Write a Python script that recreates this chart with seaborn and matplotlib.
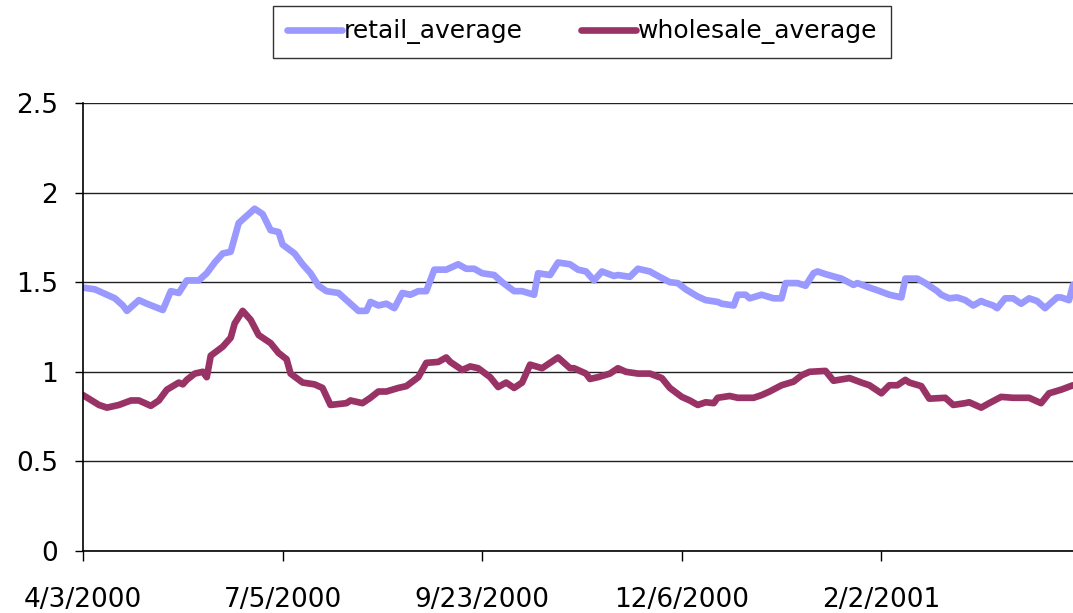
import matplotlib
matplotlib.use("Agg")
import matplotlib.pyplot as plt
import numpy as np
import pandas as pd
import seaborn as sns

# Category position (trading-day index) and values
retail_x = [0, 3, 6, 8, 10, 11, 14, 16, 20, 22, 24, 26, 29, 31, 33, 35, 37, 39, 40, 43,
            45, 47, 49, 50, 53, 55, 57, 59, 61, 64, 67, 69, 71, 72, 74, 76, 78, 80, 82, 84,
            86, 88, 91, 94, 96, 98, 100, 103, 105, 108, 110, 113, 114, 117, 119, 122, 124, 126, 128, 130,
            133, 134, 137, 139, 142, 144, 147, 149, 151, 154, 156, 159, 160, 163, 164, 166, 167, 170, 173, 175,
            176, 179, 181, 183, 184, 186, 190, 193, 194, 197, 199, 202, 205, 206, 209, 211, 214, 215, 217, 219,
            221, 223, 225, 226, 228, 229, 231, 233, 235, 237, 239, 241, 244, 245, 247, 248]
retail_y = [1.47, 1.46, 1.43, 1.41, 1.37, 1.34, 1.40, 1.38, 1.345, 1.45, 1.44, 1.51, 1.51, 1.55, 1.61, 1.66, 1.67, 1.83, 1.85, 1.91,
            1.88, 1.79, 1.78, 1.71, 1.66, 1.60, 1.55, 1.48, 1.45, 1.44, 1.38, 1.34, 1.34, 1.39, 1.37, 1.38, 1.355, 1.44, 1.43, 1.45,
            1.45, 1.57, 1.57, 1.60, 1.575, 1.575, 1.55, 1.54, 1.50, 1.45, 1.45, 1.43, 1.55, 1.54, 1.61, 1.60, 1.57, 1.56, 1.51, 1.56,
            1.535, 1.54, 1.53, 1.575, 1.56, 1.535, 1.50, 1.495, 1.46, 1.42, 1.40, 1.39, 1.38, 1.37, 1.43, 1.43, 1.41, 1.43, 1.41, 1.41,
            1.495, 1.495, 1.48, 1.55, 1.56, 1.545, 1.52, 1.485, 1.495, 1.47, 1.455, 1.43, 1.415, 1.52, 1.52, 1.495, 1.45, 1.43, 1.41, 1.415,
            1.40, 1.37, 1.395, 1.385, 1.37, 1.355, 1.41, 1.41, 1.38, 1.41, 1.395, 1.355, 1.415, 1.415, 1.40, 1.485]

wholesale_x = [0, 4, 6, 9, 12, 14, 17, 19, 21, 24, 25, 26, 28, 30, 31, 32, 35, 37, 38, 40,
               42, 44, 47, 49, 51, 52, 55, 58, 60, 62, 66, 67, 70, 72, 74, 76, 79, 81, 84, 86,
               89, 91, 92, 95, 97, 99, 102, 104, 106, 108, 110, 112, 115, 117, 119, 122, 123, 126, 127, 129,
               132, 134, 136, 139, 142, 145, 147, 150, 152, 154, 156, 158, 159, 162, 164, 168, 170, 172, 175, 178,
               180, 182, 186, 188, 192, 195, 197, 200, 202, 204, 206, 207, 210, 212, 216, 218, 221, 222, 225, 227,
               230, 233, 237, 240, 242, 245, 248]
wholesale_y = [0.87, 0.815, 0.80, 0.815, 0.84, 0.84, 0.81, 0.84, 0.90, 0.94, 0.93, 0.955, 0.99, 1.00, 0.97, 1.09, 1.14, 1.19, 1.27, 1.34,
               1.29, 1.205, 1.16, 1.105, 1.07, 0.99, 0.94, 0.93, 0.91, 0.815, 0.825, 0.84, 0.825, 0.855, 0.89, 0.89, 0.91, 0.92, 0.97, 1.05,
               1.055, 1.08, 1.055, 1.01, 1.03, 1.02, 0.97, 0.915, 0.94, 0.91, 0.94, 1.04, 1.02, 1.05, 1.08, 1.02, 1.02, 0.99, 0.96, 0.97,
               0.99, 1.02, 1.00, 0.99, 0.99, 0.965, 0.91, 0.86, 0.84, 0.815, 0.83, 0.825, 0.855, 0.865, 0.855, 0.855, 0.87, 0.89, 0.925, 0.945,
               0.98, 1.00, 1.005, 0.95, 0.965, 0.94, 0.925, 0.88, 0.925, 0.925, 0.955, 0.94, 0.92, 0.85, 0.855, 0.815, 0.825, 0.83, 0.80, 0.825,
               0.86, 0.855, 0.855, 0.825, 0.88, 0.90, 0.925]

tick_pos = [0, 50, 100, 150, 200]
tick_labels = ["4/3/2000", "7/5/2000", "9/23/2000", "12/6/2000", "2/2/2001"]
y_ticks = [0, 0.5, 1, 1.5, 2, 2.5]
y_labels = ["0", "0.5", "1", "1.5", "2", "2.5"]


def main():
    sns.set_style("white")
    plt.rcParams["font.family"] = ["DejaVu Sans"]
    plt.rcParams["text.color"] = "black"
    plt.rcParams["xtick.color"] = "black"
    plt.rcParams["ytick.color"] = "black"

    df = pd.concat([
        pd.DataFrame({"x": retail_x, "y": retail_y, "series": "retail_average"}),
        pd.DataFrame({"x": wholesale_x, "y": wholesale_y, "series": "wholesale_average"}),
    ])

    fig = plt.figure(figsize=(10.73, 6.13), dpi=100)
    ax = fig.add_axes([83 / 1073, 1 - 551 / 613, 1 - 83 / 1073, (551 - 103) / 613])

    sns.lineplot(data=df, x="x", y="y", hue="series",
                 palette={"retail_average": "#9999FF", "wholesale_average": "#993366"},
                 linewidth=4.8, ax=ax, estimator=None, sort=True)

    ax.set_xlim(0, 248)
    ax.set_ylim(0, 2.5)
    ax.set_xticks(tick_pos)
    ax.set_xticklabels(tick_labels)
    ax.set_yticks(y_ticks)
    ax.set_yticklabels(y_labels)
    ax.set(xlabel="", ylabel="")

    ax.yaxis.grid(True, color="#202020", linewidth=1)
    ax.xaxis.grid(False)
    ax.set_axisbelow(True)
    for side in ["top", "right"]:
        ax.spines[side].set_visible(False)
    for side in ["left", "bottom"]:
        ax.spines[side].set_color("black")
        ax.spines[side].set_linewidth(1.2)

    ax.tick_params(axis="x", direction="out", length=7, width=1, colors="black",
                   pad=19, labelsize=19, bottom=True)
    ax.tick_params(axis="y", direction="out", length=6, width=1, colors="black",
                   pad=12, labelsize=19, left=True)

    leg = ax.legend(loc="center", bbox_to_anchor=(582 / 1073, 1 - 32 / 613),
                    bbox_transform=fig.transFigure, ncol=2, fontsize=18,
                    frameon=True, fancybox=False, handlelength=2.2,
                    handletextpad=0.1, columnspacing=2.3, borderpad=0.55)
    leg.get_frame().set_edgecolor("black")
    leg.get_frame().set_linewidth(1)
    for text in leg.get_texts():
        text.set_color("black")
    for line in leg.get_lines():
        line.set_linewidth(4.8)

    fig.savefig("out.png", dpi=100)


if __name__ == "__main__":
    main()
